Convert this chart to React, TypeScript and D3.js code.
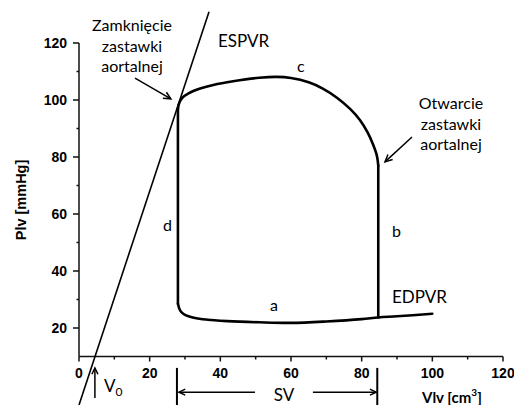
import React from "react";
import * as d3 from "d3";

// Axis ticks
const xMajor = [0, 20, 40, 60, 80, 100, 120];
const xMinor = [10, 30, 50, 70, 90, 110];
const yMajor = [20, 40, 60, 80, 100, 120];
const yMinor = [30, 50, 70, 90, 110];

// ESPVR line (volume, pressure)
const espvrV = [0, 36.8];
const espvrP = [-7, 131];

// EDPVR / filling phase a (volume, pressure)
const edpvrV = [28, 28.6, 29.6, 31, 32.5, 35, 37.5, 42, 51, 60, 70, 80, 84.7, 90, 100];
const edpvrP = [28.5, 26.2, 24.9, 24.1, 23.6, 23.1, 22.8, 22.4, 22.0, 21.8, 22.3, 23.1, 23.7, 24.1, 25.0];

// Ejection phase c (volume, pressure)
const ejectV = [28, 28.4, 29.3, 31, 34.3, 38, 43.6, 51, 56, 60, 65, 69, 73, 76.8, 79.5, 81.6, 83.2, 84.3, 84.7];
const ejectP = [97, 99, 100.8, 102.3, 104, 105.3, 106.6, 107.8, 108.1, 107.7, 106.2, 104, 100.8, 96.8, 93, 88.8, 84.5, 80.5, 77];

// Isovolumic phases
const esv = 28; // end-systolic volume
const edv = 84.7; // end-diastolic volume
const dTop = 97;
const dBottom = 28.5;
const bBottom = 23.7;
const bTop = 77;
const v0 = 4.5;

const W = 514;
const H = 405;

function Arrow({ x1, y1, x2, y2, head = 8, sw = 1.5 }: { x1: number; y1: number; x2: number; y2: number; head?: number; sw?: number }) {
  const a = Math.atan2(y2 - y1, x2 - x1);
  const sp = 0.45;
  const hx1 = x2 - head * Math.cos(a - sp);
  const hy1 = y2 - head * Math.sin(a - sp);
  const hx2 = x2 - head * Math.cos(a + sp);
  const hy2 = y2 - head * Math.sin(a + sp);
  return (
    <g stroke="#000" strokeWidth={sw} fill="none">
      <line x1={x1} y1={y1} x2={x2} y2={y2} />
      <polyline points={`${hx1},${hy1} ${x2},${y2} ${hx2},${hy2}`} />
    </g>
  );
}

export default function App() {
  const x = d3.scaleLinear().domain([0, 120]).range([79, 503]);
  const y = d3.scaleLinear().domain([10, 120]).range([356.5, 43]);

  const line = d3
    .line<[number, number]>()
    .x((d) => x(d[0]))
    .y((d) => y(d[1]));
  const smooth = d3
    .line<[number, number]>()
    .x((d) => x(d[0]))
    .y((d) => y(d[1]))
    .curve(d3.curveCatmullRom.alpha(0.5));

  const espvr = espvrV.map((v, i) => [v, espvrP[i]] as [number, number]);
  const edpvr = edpvrV.map((v, i) => [v, edpvrP[i]] as [number, number]);
  const eject = ejectV.map((v, i) => [v, ejectP[i]] as [number, number]);

  const labelFont = "Lato, 'DejaVu Sans', sans-serif";
  const tickFont = "'Liberation Sans', Arial, sans-serif";

  const svBottom = -8;
  const svTop = 6;
  const svArrowP = -2.5;

  return (
    <svg
      width={W}
      height={H}
      style={{ position: "absolute", left: 0, top: 0, display: "block", background: "#fff" }}
    >
      <rect width={W} height={H} fill="#fff" />
      {/* Axes */}
      <g stroke="#111" strokeWidth={1.5} fill="none">
        <line x1={x(0)} y1={y(10)} x2={x(120)} y2={y(10)} />
        <line x1={x(0)} y1={y(10)} x2={x(0)} y2={y(120)} />
        {xMajor.map((t) => (
          <line key={"xm" + t} x1={x(t)} x2={x(t)} y1={y(10)} y2={y(10) + 5} />
        ))}
        {xMinor.map((t) => (
          <line key={"xn" + t} x1={x(t)} x2={x(t)} y1={y(10)} y2={y(10) + 3} />
        ))}
        {yMajor.map((t) => (
          <line key={"ym" + t} x1={x(0)} x2={x(0) - 6} y1={y(t)} y2={y(t)} />
        ))}
        {yMinor.map((t) => (
          <line key={"yn" + t} x1={x(0)} x2={x(0) - 2.5} y1={y(t)} y2={y(t)} />
        ))}
      </g>
      <g fontFamily={tickFont} fontWeight="bold" fontSize={14} fill="#000">
        {xMajor.map((t) => (
          <text key={"xl" + t} x={x(t)} y={y(10) + 21} textAnchor="middle">
            {t}
          </text>
        ))}
        {yMajor.map((t) => (
          <text key={"yl" + t} x={x(0) - 12} y={y(t)} dy="0.35em" textAnchor="end">
            {t}
          </text>
        ))}
        <text transform={`translate(26,200) rotate(-90)`} textAnchor="middle" fontSize={14.5}>
          Plv [mmHg]
        </text>
      </g>

      {/* ESPVR */}
      <path d={line(espvr) || ""} stroke="#000" strokeWidth={1.6} fill="none" />

      {/* PV loop */}
      <g stroke="#000" strokeWidth={2.6} fill="none" strokeLinejoin="round" strokeLinecap="round">
        <path d={smooth(edpvr) || ""} />
        <path d={smooth(eject) || ""} />
        <path d={line([[edv, bBottom], [edv, bTop]]) || ""} />
        <path d={line([[esv, dTop], [esv, dBottom]]) || ""} />
      </g>

      {/* Annotations */}
      <g fontFamily={labelFont} fontSize={16} fill="#000">
        <text x={132} y={31} textAnchor="middle">Zamknięcie</text>
        <text x={132} y={52} textAnchor="middle">zastawki</text>
        <text x={132} y={72} textAnchor="middle">aortalnej</text>
        <text x={451} y={109} textAnchor="middle">Otwarcie</text>
        <text x={451} y={130} textAnchor="middle">zastawki</text>
        <text x={451} y={150} textAnchor="middle">aortalnej</text>
        <text x={218} y={47} fontSize={17}>ESPVR</text>
        <text x={392} y={303} fontSize={17}>EDPVR</text>
        <text x={297} y={72}>c</text>
        <text x={163} y={231}>d</text>
        <text x={392} y={237}>b</text>
        <text x={270} y={311}>a</text>
        <text x={284} y={401} textAnchor="middle" fontSize={17}>SV</text>
        <text x={104} y={392} fontSize={17}>
          V<tspan fontSize={12} dy={4}>0</tspan>
        </text>
        <text x={422} y={403} fontWeight="bold" fontSize={15}>
          Vlv [cm<tspan fontSize={10} dy={-7}>3</tspan>
          <tspan dy={7}>]</tspan>
        </text>
      </g>

      <Arrow x1={x(15.85)} y1={y(107.7)} x2={x(26)} y2={y(100.4)} />
      <Arrow x1={x(94.25)} y1={y(87)} x2={x(86.6)} y2={y(78.3)} />
      <Arrow x1={x(v0)} y1={y(-4.6)} x2={x(v0)} y2={y(6)} head={7} />

      {/* SV bracket */}
      <g stroke="#000" strokeWidth={2} fill="none">
        <line x1={x(esv) - 1} x2={x(esv) - 1} y1={y(svTop)} y2={y(svBottom)} />
        <line x1={x(edv) - 1} x2={x(edv) - 1} y1={y(svTop)} y2={y(svBottom)} />
      </g>
      <Arrow x1={x(49.8)} y1={y(svArrowP)} x2={x(esv) + 1} y2={y(svArrowP)} head={7} />
      <Arrow x1={x(66.2)} y1={y(svArrowP)} x2={x(edv) - 2} y2={y(svArrowP)} head={7} />
    </svg>
  );
}
